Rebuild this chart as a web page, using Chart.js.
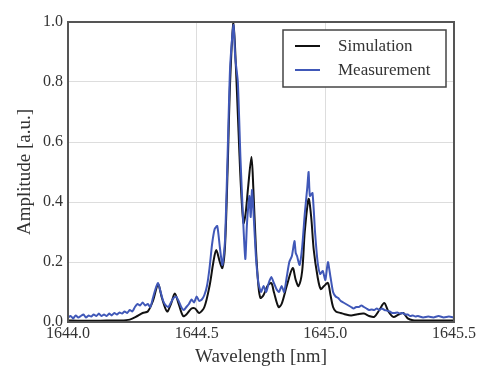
<!DOCTYPE html>
<html>
<head>
<meta charset="utf-8">
<script src="https://cdn.jsdelivr.net/npm/chart.js@4/dist/chart.umd.min.js"></script>
<style>
html,body{margin:0;padding:0;background:#fff;}
#wrap{position:relative;width:478px;height:372px;}
</style>
</head>
<body>
<div id="wrap"><canvas id="c" width="478" height="372"></canvas></div>
<script>
const xTicks = [1644.0, 1644.5, 1645.0, 1645.5];
const yTicks = [0.0, 0.2, 0.4, 0.6, 0.8, 1.0];
const seriesNames = ["Simulation", "Measurement"];

const simX = [1644.00,1644.05,1644.10,1644.15,1644.20,1644.24,1644.27,1644.29,1644.31,1644.33,1644.35,1644.365,1644.385,1644.40,1644.415,1644.43,1644.447,1644.46,1644.48,1644.494,1644.51,1644.53,1644.55,1644.565,1644.576,1644.59,1644.60,1644.61,1644.62,1644.63,1644.643,1644.65,1644.662,1644.672,1644.682,1644.69,1644.70,1644.713,1644.72,1644.73,1644.74,1644.748,1644.76,1644.775,1644.79,1644.80,1644.818,1644.83,1644.85,1644.873,1644.885,1644.896,1644.91,1644.92,1644.935,1644.945,1644.955,1644.97,1644.982,1644.995,1645.01,1645.02,1645.03,1645.041,1645.06,1645.075,1645.10,1645.125,1645.15,1645.17,1645.19,1645.21,1645.229,1645.245,1645.264,1645.285,1645.303,1645.32,1645.34,1645.40,1645.45,1645.50];
const simY = [0.005,0.004,0.004,0.005,0.005,0.008,0.02,0.03,0.035,0.07,0.125,0.08,0.035,0.06,0.095,0.06,0.02,0.025,0.045,0.045,0.03,0.05,0.12,0.2,0.24,0.2,0.18,0.25,0.5,0.8,1.0,0.9,0.65,0.45,0.33,0.36,0.45,0.55,0.45,0.25,0.12,0.08,0.09,0.12,0.13,0.1,0.05,0.06,0.12,0.18,0.14,0.12,0.17,0.3,0.41,0.35,0.24,0.15,0.11,0.12,0.13,0.09,0.05,0.035,0.03,0.026,0.022,0.026,0.028,0.02,0.017,0.04,0.063,0.035,0.017,0.025,0.03,0.012,0.006,0.005,0.005,0.005];

const measX = [1644.00,1644.01,1644.02,1644.03,1644.04,1644.05,1644.06,1644.07,1644.08,1644.09,1644.10,1644.11,1644.12,1644.13,1644.14,1644.15,1644.16,1644.17,1644.18,1644.19,1644.20,1644.21,1644.22,1644.23,1644.24,1644.25,1644.26,1644.27,1644.28,1644.29,1644.30,1644.31,1644.32,1644.33,1644.34,1644.35,1644.36,1644.37,1644.38,1644.39,1644.40,1644.41,1644.42,1644.43,1644.44,1644.45,1644.46,1644.47,1644.48,1644.49,1644.50,1644.51,1644.52,1644.53,1644.54,1644.55,1644.56,1644.57,1644.58,1644.59,1644.60,1644.61,1644.62,1644.63,1644.643,1644.65,1644.66,1644.67,1644.68,1644.689,1644.695,1644.70,1644.705,1644.71,1644.715,1644.72,1644.73,1644.74,1644.75,1644.76,1644.77,1644.78,1644.79,1644.80,1644.81,1644.82,1644.83,1644.84,1644.85,1644.86,1644.87,1644.88,1644.885,1644.89,1644.90,1644.91,1644.92,1644.93,1644.935,1644.94,1644.95,1644.96,1644.97,1644.98,1644.99,1645.00,1645.01,1645.02,1645.03,1645.04,1645.05,1645.06,1645.07,1645.08,1645.09,1645.10,1645.11,1645.12,1645.13,1645.14,1645.15,1645.16,1645.17,1645.18,1645.19,1645.20,1645.21,1645.22,1645.23,1645.24,1645.25,1645.26,1645.27,1645.28,1645.29,1645.30,1645.31,1645.32,1645.33,1645.34,1645.35,1645.36,1645.38,1645.40,1645.42,1645.44,1645.46,1645.48,1645.50];
const measY = [0.015,0.02,0.012,0.022,0.015,0.02,0.025,0.015,0.022,0.018,0.025,0.02,0.028,0.02,0.025,0.02,0.028,0.022,0.03,0.025,0.032,0.028,0.035,0.03,0.04,0.035,0.05,0.06,0.055,0.065,0.055,0.06,0.05,0.08,0.11,0.13,0.1,0.07,0.055,0.05,0.065,0.08,0.085,0.07,0.05,0.04,0.05,0.06,0.075,0.065,0.085,0.07,0.075,0.09,0.12,0.18,0.26,0.31,0.32,0.25,0.19,0.27,0.55,0.85,0.99,0.88,0.8,0.55,0.35,0.21,0.32,0.38,0.42,0.35,0.44,0.38,0.22,0.13,0.1,0.12,0.1,0.13,0.15,0.13,0.11,0.1,0.12,0.1,0.15,0.2,0.22,0.27,0.23,0.22,0.19,0.25,0.36,0.45,0.5,0.42,0.43,0.3,0.2,0.16,0.17,0.14,0.2,0.15,0.1,0.085,0.08,0.07,0.065,0.06,0.055,0.05,0.045,0.05,0.05,0.055,0.05,0.045,0.04,0.042,0.04,0.045,0.04,0.045,0.04,0.038,0.035,0.03,0.03,0.032,0.028,0.03,0.025,0.025,0.02,0.022,0.018,0.02,0.015,0.018,0.015,0.02,0.015,0.018,0.015];

const colors = ["#111111", "#4058b8"];
const TXT = "#333333";
const SERIF = "'Liberation Serif', 'DejaVu Serif', serif";

const toPts = (xs, ys) => xs.map((x, i) => ({x: x, y: ys[i]}));

const frame = {
  id: 'frame',
  afterDatasetsDraw(chart) {
    const {ctx, chartArea: a} = chart;
    ctx.save();
    ctx.strokeStyle = '#555';
    ctx.lineWidth = 2;
    ctx.strokeRect(a.left, a.top, a.right - a.left, a.bottom - a.top);
    ctx.restore();
  }
};

const legendBox = {
  id: 'legendBox',
  afterDraw(chart) {
    const ctx = chart.ctx;
    const x0 = 283, y0 = 30, w = 163, h = 57;
    ctx.save();
    ctx.fillStyle = '#fff';
    ctx.fillRect(x0, y0, w, h);
    ctx.strokeStyle = '#444';
    ctx.lineWidth = 1.5;
    ctx.strokeRect(x0, y0, w, h);
    ctx.font = "17px " + SERIF;
    ctx.textBaseline = 'middle';
    ctx.fillStyle = TXT;
    chart.data.datasets.forEach((ds, i) => {
      const cy = 46 + i * 24;
      ctx.strokeStyle = ds.borderColor;
      ctx.lineWidth = 2;
      ctx.beginPath();
      ctx.moveTo(295, cy);
      ctx.lineTo(320, cy);
      ctx.stroke();
      ctx.fillStyle = TXT;
      ctx.fillText(ds.label, 338, cy + 1);
    });
    ctx.restore();
  }
};

new Chart(document.getElementById('c'), {
  type: 'line',
  data: {
    datasets: [
      {label: seriesNames[0], data: toPts(simX, simY), borderColor: colors[0], borderWidth: 2, pointRadius: 0, tension: 0.3, order: 1},
      {label: seriesNames[1], data: toPts(measX, measY), borderColor: colors[1], borderWidth: 2, pointRadius: 0, tension: 0.2, order: 0}
    ]
  },
  options: {
    responsive: false,
    animation: false,
    layout: {padding: {left: 0, top: 22, right: 24, bottom: 0}},
    plugins: {legend: {display: false}, tooltip: {enabled: false}},
    scales: {
      x: {
        type: 'linear', min: xTicks[0], max: xTicks[xTicks.length - 1],
        afterBuildTicks(s) { s.ticks = xTicks.map(v => ({value: v})); },
        afterFit(s) { s.height = 50; },
        border: {display: false},
        grid: {color: '#dddddd', drawTicks: false, lineWidth: 1},
        ticks: {color: TXT, font: {family: SERIF, size: 16}, padding: 2, maxRotation: 0, callback: v => v.toFixed(1)},
        title: {display: true, text: 'Wavelength [nm]', color: TXT, font: {family: SERIF, size: 19}, padding: {top: 0, bottom: 4}}
      },
      y: {
        min: 0, max: 1,
        afterBuildTicks(s) { s.ticks = yTicks.map(v => ({value: v})); },
        afterFit(s) { s.width = 68; },
        border: {display: false},
        grid: {color: '#dddddd', drawTicks: false, lineWidth: 1},
        ticks: {color: TXT, font: {family: SERIF, size: 16}, padding: 5, callback: v => v.toFixed(1)},
        title: {display: true, text: 'Amplitude [a.u.]', color: TXT, font: {family: SERIF, size: 19}, padding: {top: 14, bottom: 0}}
      }
    }
  },
  plugins: [frame, legendBox]
});
</script>
</body>
</html>
